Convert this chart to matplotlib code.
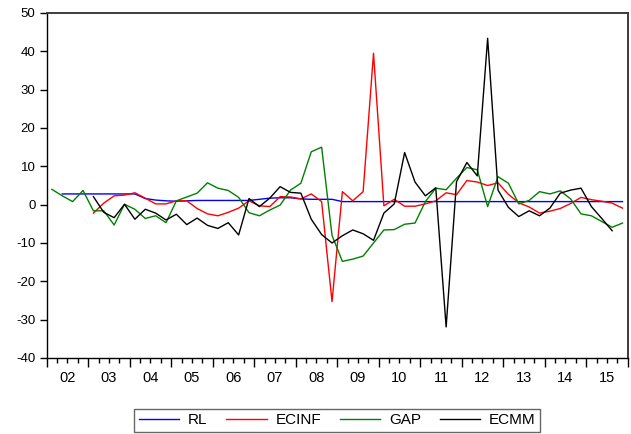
import numpy as np
import pandas as pd
import matplotlib
matplotlib.use("Agg")
import matplotlib.pyplot as plt
from matplotlib.ticker import FixedLocator, FuncFormatter, NullFormatter

plt.rcParams["font.family"] = ["Liberation Sans", "DejaVu Sans"]
plt.rcParams["axes.unicode_minus"] = False

nan = np.nan

# Quarterly sample 2002Q1 - 2015Q4
quarters = pd.period_range("2002Q1", "2015Q4", freq="Q")

RL = [nan, 2.8, 2.8, 2.8, 2.8, 2.8, 2.8, 2.8,
      2.8, 1.6, 1.2, 1.0, 0.9, 1.0, 1.1, 1.1,
      1.1, 1.1, 1.1, 1.1, 1.4, 1.7, 1.8, 1.8,
      1.5, 1.4, 1.4, 1.4, 0.8, 0.8, 0.8, 0.8,
      0.8, 0.8, 0.8, 0.8, 0.8, 0.8, 0.8, 0.8,
      0.8, 0.8, 0.8, 0.8, 0.8, 0.8, 0.8, 0.8,
      0.8, 0.8, 0.8, 0.8, 0.8, 0.8, 0.8, 0.8]

ECINF = [nan, nan, nan, nan, -2.2, 0.4, 2.3, 2.5,
         3.1, 1.7, 0.2, 0.2, 1.0, 1.0, -1.0, -2.4,
         -2.9, -2.0, -0.9, 1.0, -0.3, -0.5, 2.1, 2.0,
         1.5, 2.8, 0.8, -25.3, 3.4, 1.0, 3.4, 39.5,
         -0.3, 1.4, -0.4, -0.4, 0.2, 1.0, 3.1, 2.6,
         6.3, 5.9, 5.0, 5.7, 2.7, 0.5, -0.6, -2.2,
         -1.7, -1.0, 0.3, 1.9, 1.3, 0.9, 0.4, -0.9]

GAP = [4.0, 2.3, 0.8, 3.7, -1.6, -1.6, -5.3, 0.1,
       -1.2, -3.6, -2.9, -4.7, 1.0, 2.0, 3.0, 5.7,
       4.3, 3.7, 1.9, -2.1, -2.9, -1.4, -0.1, 3.8,
       5.6, 13.8, 15.0, -8.0, -14.8, -14.2, -13.4, -10.0,
       -6.6, -6.5, -5.1, -4.8, 0.8, 4.3, 3.9, 6.9,
       9.7, 9.1, -0.5, 7.3, 5.6, 0.2, 1.1, 3.4,
       2.8, 3.6, 1.5, -2.4, -2.9, -4.4, -5.9, -4.8]

ECMM = [nan, nan, nan, nan, 2.1, -2.0, -3.4, 0.1,
        -3.8, -1.2, -2.2, -4.0, -2.5, -5.2, -3.5, -5.4,
        -6.2, -4.7, -7.9, 1.6, -0.5, 1.7, 4.7, 3.2,
        3.0, -3.8, -7.8, -10.0, -8.1, -6.6, -7.6, -9.3,
        -2.2, 0.2, 13.6, 5.9, 2.3, 4.4, -31.9, 6.0,
        11.0, 7.5, 43.4, 3.8, -0.7, -3.1, -1.6, -2.9,
        -0.9, 3.0, 3.8, 4.3, -0.5, -3.6, -6.8, nan]

series = [("RL", RL, "#0000ff"),
          ("ECINF", ECINF, "#ff0000"),
          ("GAP", GAP, "#008000"),
          ("ECMM", ECMM, "#000000")]

W, H = 631, 434
fig = plt.figure(figsize=(W / 100, H / 100), dpi=100)
left, right, top, bottom = 46.7, 627.7, 13.0, 358.0
ax = fig.add_axes([left / W, 1 - bottom / H, (right - left) / W, (bottom - top) / H])

x = np.arange(len(quarters))
for name, vals, col in series:
    ax.plot(x, vals, color=col, lw=1.0, label=name)

n = len(quarters)
ax.set_xlim(-0.5, n - 0.5)
ax.set_ylim(-40, 50)
ax.set_yticks(np.arange(-40, 51, 10))

# year boundaries as long ticks, quarters as short ticks, year labels centred
ax.xaxis.set_major_locator(FixedLocator(np.arange(-0.5, n, 4)))
ax.xaxis.set_major_formatter(NullFormatter())
ax.xaxis.set_minor_locator(FixedLocator(np.arange(-0.5, n, 1)))


def year_label(v, pos):
    k = int(round(v + 0.5))
    if k % 4 == 2:
        return f"{quarters[k].year % 100:02d}"
    return ""


ax.xaxis.set_minor_formatter(FuncFormatter(year_label))

ax.tick_params(axis="x", which="major", length=6.3, width=1.0, direction="out")
ax.tick_params(axis="x", which="minor", length=3.6, width=1.0, direction="out",
               pad=5.5, labelsize=10.5)
ax.tick_params(axis="y", which="major", length=5.3, width=1.0, direction="out",
               pad=2.8, labelsize=9.5)

for s in ("left", "bottom"):
    ax.spines[s].set_color("black")
    ax.spines[s].set_linewidth(1.0)
for s in ("top", "right"):
    ax.spines[s].set_color("#3c3c3c")
    ax.spines[s].set_linewidth(1.4)

leg = ax.legend(loc="upper center", bbox_to_anchor=(0.5, -(408.5 - bottom) / (bottom - top)),
                ncol=4, frameon=True, fancybox=False, fontsize=11,
                handlelength=2.65, handletextpad=0.55, columnspacing=1.25,
                borderpad=0.3, borderaxespad=0)
leg.get_frame().set_edgecolor("#404040")
leg.get_frame().set_linewidth(1.0)

fig.savefig("out.png", dpi=100)
